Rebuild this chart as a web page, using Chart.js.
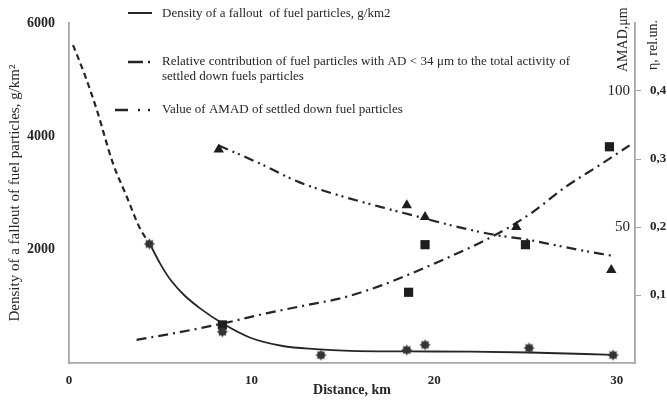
<!DOCTYPE html>
<html>
<head>
<meta charset="utf-8">
<script src="https://cdn.jsdelivr.net/npm/chart.js@4.4.1/dist/chart.umd.min.js"></script>
<style>
  html, body { margin: 0; padding: 0; background: #fff; }
  #wrap { position: relative; width: 667px; height: 400px; }
</style>
</head>
<body>
<div id="wrap"><canvas id="chart"></canvas></div>
<script>
/* ============================================
   DATA
   ============================================ */
// measured density of fuel particle fallout, g/km2
const distDensity = [4.4, 8.4, 13.8, 18.5, 19.5, 25.2, 29.8];
const density = [2100, 550, 140, 230, 320, 265, 140];

// fitted density curve: dashed extrapolation + solid part
const fitDashDist = [0.22, 0.87, 1.53, 2.4, 3.17, 3.88, 4.43];
const fitDashDensity = [5610, 5080, 4460, 3530, 2930, 2380, 2100];
const fitDist = [4.43, 5.0, 5.6, 6.3, 7.2, 8.4, 9.9, 11.7, 13.5, 15.4, 18.5, 22, 25.2, 29.8];
const fitDensity = [2100, 1750, 1450, 1200, 960, 700, 450, 300, 245, 215, 205, 200, 185, 145];

// relative contribution eta, rel. un.
const distEta = [8.4, 18.6, 19.5, 25.0, 29.6];
const eta = [0.056, 0.104, 0.174, 0.174, 0.318];
const fitEtaDist = [3.7, 6, 8.4, 10.8, 13, 15, 17, 18.6, 20.5, 22.6, 24, 25.4, 27.2, 29, 30.7];
const fitEta = [0.034, 0.045, 0.058, 0.073, 0.085, 0.096, 0.113, 0.13, 0.152, 0.178, 0.198, 0.222, 0.259, 0.29, 0.32];

// AMAD of settled down fuel particles, um
const distAmad = [8.2, 18.5, 19.5, 24.5, 29.7];
const amad = [78.5, 58, 53.7, 50, 34.2];
const fitAmadDist = [8.2, 10.4, 12.6, 14.6, 17, 19, 21, 23.4, 25, 26.5, 28, 29.7];
const fitAmad = [80, 73.5, 66.5, 62, 57.5, 54, 50.5, 47, 45.5, 43.5, 41.5, 39.5];

const xTicks = [0, 10, 20, 30];

/* ============================================
   STYLE HELPERS
   ============================================ */
const INK = '#262626';
const AXIS = '#a6a6a6';
const SERIF = "'Liberation Serif', 'Times New Roman', serif";

const pairs = (xs, ys) => xs.map((x, i) => ({ x: x, y: ys[i] }));

// small filled 8-point star used as marker
function makeStar(r, color) {
    const c = document.createElement('canvas');
    const s = Math.ceil(r * 2) + 2;
    c.width = c.height = s;
    const g = c.getContext('2d');
    g.fillStyle = color;
    g.beginPath();
    for (let i = 0; i < 16; i++) {
        const a = i * Math.PI / 8;
        const rr = i % 2 === 0 ? r : r * 0.66;
        g.lineTo(s / 2 + rr * Math.cos(a), s / 2 + rr * Math.sin(a));
    }
    g.closePath();
    g.fill();
    return c;
}
const starImg = makeStar(5.5, '#333');

/* ============================================
   LEGEND + RIGHT AXIS TITLES (drawn on canvas)
   ============================================ */
function justify(ctx, text, x, y, width) {
    const words = text.split(' ');
    const total = words.reduce((s, w) => s + ctx.measureText(w).width, 0);
    const gap = (width - total) / (words.length - 1);
    let cx = x;
    words.forEach(w => {
        ctx.fillText(w, cx, y);
        cx += ctx.measureText(w).width + gap;
    });
}

const annotations = {
    id: 'annotations',
    afterDraw(chart) {
        const ctx = chart.ctx;
        ctx.save();
        ctx.strokeStyle = INK;
        ctx.fillStyle = INK;

        // legend samples
        const sample = (x1, x2, y, dash, w) => {
            ctx.beginPath();
            ctx.lineWidth = w;
            ctx.setLineDash(dash);
            ctx.moveTo(x1, y);
            ctx.lineTo(x2, y);
            ctx.stroke();
        };
        sample(128, 152, 13, [], 2);
        sample(128, 152, 62, [15, 5, 2, 10], 2.5);
        sample(115, 152, 110, [13, 10, 2, 8, 2, 10], 2.5);
        ctx.setLineDash([]);

        ctx.font = '13px ' + SERIF;
        ctx.textBaseline = 'middle';
        ctx.textAlign = 'left';
        ctx.fillText('Density of a fallout  of fuel particles, g/km2', 162, 14);
        justify(ctx, 'Relative contribution of fuel particles with AD < 34 \u03bcm to the total activity of', 162, 62, 408);
        ctx.fillText('settled down fuels particles', 162, 77);
        ctx.fillText('Value of AMAD of settled down fuel particles', 162, 110);

        // rotated titles of the two right axes
        ctx.font = '14px ' + SERIF;
        const vtext = (t, x, y) => {
            ctx.save();
            ctx.translate(x, y);
            ctx.rotate(-Math.PI / 2);
            ctx.textAlign = 'left';
            ctx.fillText(t, 0, 0);
            ctx.restore();
        };
        vtext('AMAD,\u03bcm', 623, 72);
        vtext('\u03b7, rel.un.', 653, 70);
        ctx.restore();
    }
};

/* ============================================
   CHART
   ============================================ */
Chart.defaults.font.family = SERIF;
Chart.defaults.color = INK;

const lineBase = { type: 'line', pointRadius: 0, borderColor: INK, fill: false, order: 2 };

new Chart(document.getElementById('chart'), {
    type: 'scatter',
    data: {
        datasets: [
            Object.assign({}, lineBase, {
                label: 'Density extrapolation',
                data: pairs(fitDashDist, fitDashDensity),
                borderWidth: 2.2, borderDash: [6, 4],
                cubicInterpolationMode: 'monotone', yAxisID: 'y'
            }),
            Object.assign({}, lineBase, {
                label: 'Density of a fallout of fuel particles, g/km2',
                data: pairs(fitDist, fitDensity),
                borderWidth: 1.8,
                cubicInterpolationMode: 'monotone', yAxisID: 'y'
            }),
            {
                label: 'Density measured',
                data: pairs(distDensity, density),
                pointStyle: starImg, pointRadius: 5, showLine: false,
                yAxisID: 'y', order: 0
            },
            Object.assign({}, lineBase, {
                label: 'Relative contribution',
                data: pairs(fitEtaDist, fitEta),
                borderWidth: 2.2, borderDash: [10, 5, 2, 5],
                cubicInterpolationMode: 'monotone', yAxisID: 'eta'
            }),
            {
                label: 'eta measured',
                data: pairs(distEta, eta),
                pointStyle: 'rect', pointRadius: 6.5,
                backgroundColor: '#1e1e1e', borderColor: '#1e1e1e', borderWidth: 0,
                showLine: false, yAxisID: 'eta', order: 0
            },
            Object.assign({}, lineBase, {
                label: 'Value of AMAD',
                data: pairs(fitAmadDist, fitAmad),
                borderWidth: 2.2, borderDash: [10, 5, 2, 4, 2, 5],
                cubicInterpolationMode: 'monotone', yAxisID: 'amad'
            }),
            {
                label: 'AMAD measured',
                data: pairs(distAmad, amad),
                pointStyle: 'triangle', pointRadius: 6,
                backgroundColor: '#1e1e1e', borderColor: '#1e1e1e', borderWidth: 0,
                showLine: false, yAxisID: 'amad', order: 0
            }
        ]
    },
    options: {
        responsive: true,
        maintainAspectRatio: false,
        animation: false,
        layout: { padding: { top: 23, left: 0, right: 0, bottom: 0 } },
        plugins: {
            legend: { display: false },
            tooltip: { enabled: false }
        },
        scales: {
            x: {
                type: 'linear', min: 0, max: 31,
                afterFit: s => { s.height = 37; },
                afterBuildTicks: s => { s.ticks = xTicks.map(v => ({ value: v })); },
                grid: { drawOnChartArea: false, drawTicks: false },
                border: { color: AXIS, width: 1.8 },
                ticks: { padding: 10, font: { size: 13, weight: 'bold' } },
                title: {
                    display: true, text: 'Distance, km',
                    font: { size: 14, weight: 'bold' },
                    padding: { top: 0, bottom: 1 }
                }
            },
            y: {
                position: 'left', min: 0, max: 6000,
                afterFit: s => { s.width = 69; },
                grid: { drawOnChartArea: false, drawTicks: false },
                border: { color: AXIS, width: 1.8 },
                ticks: {
                    stepSize: 2000, padding: 14,
                    font: { size: 14, weight: 'bold' },
                    callback: v => (v === 0 ? '' : String(v))
                },
                title: {
                    display: true, text: 'Density of a fallout of fuel particles, g/km\u00b2',
                    font: { size: 15 }, padding: { top: 6, bottom: 0 }
                }
            },
            amad: {
                position: 'right', weight: 0, min: 0, max: 125,
                afterFit: s => { s.width = 0; },
                grid: { drawOnChartArea: false, drawTicks: false },
                border: { display: false },
                ticks: {
                    stepSize: 50, includeBounds: false, mirror: true, padding: -5,
                    font: { size: 15 },
                    callback: v => (v === 50 || v === 100 ? String(v) : '')
                }
            },
            eta: {
                position: 'right', weight: 1, min: 0, max: 0.5,
                afterFit: s => { s.width = 32; },
                grid: {
                    drawOnChartArea: false, tickLength: 6,
                    color: c => (c.tick && c.tick.value > 0.05 && c.tick.value < 0.45 ? AXIS : 'rgba(0,0,0,0)')
                },
                border: { color: AXIS, width: 1.8 },
                ticks: {
                    stepSize: 0.1, includeBounds: false, padding: 9,
                    font: { size: 13, weight: 'bold' },
                    callback: v => (v > 0.05 && v < 0.45 ? v.toFixed(1).replace('.', ',') : '')
                }
            }
        }
    },
    plugins: [annotations]
});
</script>
</body>
</html>
